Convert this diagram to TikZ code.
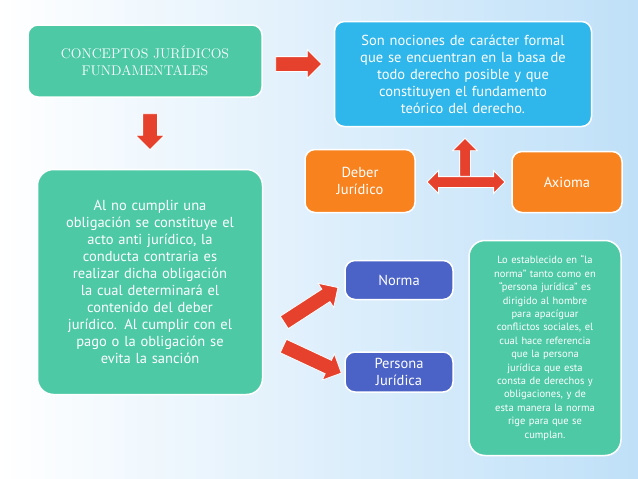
\documentclass[tikz,border=0pt]{standalone}
\usepackage{fontspec}
\setsansfont{PT Sans}
\usetikzlibrary{positioning}
\usetikzlibrary{shapes.arrows}

\definecolor{tealbox}{HTML}{4DC9A6}
\definecolor{bluebox}{HTML}{2FB6EA}
\definecolor{orangebox}{HTML}{F7821E}
\definecolor{indigobox}{HTML}{4B63C6}
\definecolor{redarrow}{HTML}{E5412D}
\definecolor{skyback}{HTML}{BFE0F8}

\tikzset{
    card/.style={draw=white, line width=1.5pt, rounded corners=10pt, text=white, align=center, inner sep=3pt, font=\sffamily\fontsize{14.5}{17}\selectfont},
    bigarrow/.style={single arrow, fill=redarrow, draw=white, line width=0.8pt, single arrow head extend=7pt, minimum height=#1, inner sep=7pt},
}

\begin{document}
\begin{tikzpicture}[x=1pt, y=-1pt]

        \shade[left color=white, right color=skyback] (0,0) rectangle (638,479);
        \useasboundingbox (0,0) rectangle (638,479);

        \node[card, fill=tealbox, minimum width=234pt, minimum height=72pt, font=\rmfamily\fontsize{14}{17}\selectfont] (conceptos) at (145,61) {CONCEPTOS JURÍDICOS\\FUNDAMENTALES};
        \node[card, fill=bluebox, minimum width=257pt, minimum height=105pt, text width=245pt] (nociones) at (463,74) {Son nociones de carácter formal\\que se encuentran en la basa de\\todo derecho posible y que\\constituyen el fundamento\\teórico del derecho.};
        \node[card, fill=orangebox, minimum width=110pt, minimum height=63pt, text width=100pt] (deber) at (360,181) {Deber\\Jurídico};
        \node[card, fill=orangebox, minimum width=110pt, minimum height=61pt] (axioma) at (567,182) {Axioma};
        \node[card, fill=tealbox, minimum width=225pt, minimum height=225pt, text width=215pt, rounded corners=16pt] (cumplir) at (150,282) {Al no cumplir una\\obligación se constituye el\\acto anti jurídico, la\\conducta contraria es\\realizar dicha obligación\\la cual determinará el\\contenido del deber\\jurídico. Al cumplir con el\\pago o la obligación se\\evita la sanción};
        \node[card, fill=indigobox, minimum width=108pt, minimum height=39pt] (norma) at (399,280) {Norma};
        \node[card, fill=indigobox, minimum width=108pt, minimum height=40pt, text width=100pt] (persona) at (399,372) {Persona\\Jurídica};
        \node[card, fill=tealbox, minimum width=151pt, minimum height=215pt, text width=146pt, font=\sffamily\fontsize{10.5}{13.4}\selectfont, rounded corners=16pt] (establecido) at (545,348) {Lo establecido en “la\\norma” tanto como en\\“persona jurídica” es\\dirigido al hombre\\para apacíguar\\conflictos sociales, el\\cual hace referencia\\que la persona\\jurídica que esta\\consta de derechos y\\obligaciones, y de\\esta manera la norma\\rige para que se\\cumplan.};

        % arrows
        \node[bigarrow=46pt] (toright) at (295,64) {};
        \node[bigarrow=36pt, rotate=-90] (todown) at (150,128) {};
        \node[double arrow, fill=redarrow, draw=white, line width=0.8pt, minimum height=78pt, double arrow head extend=6pt, inner sep=5pt] (between) at (466,182) {};
        \node[bigarrow=38pt, inner sep=5pt, rotate=90] (toup) at (465,160) {};
        \node[bigarrow=64pt, rotate=33] (tonorma) at (308,307) {};
        \node[bigarrow=64pt, rotate=-25] (topersona) at (309,358) {};

    \end{tikzpicture}
\end{document}
